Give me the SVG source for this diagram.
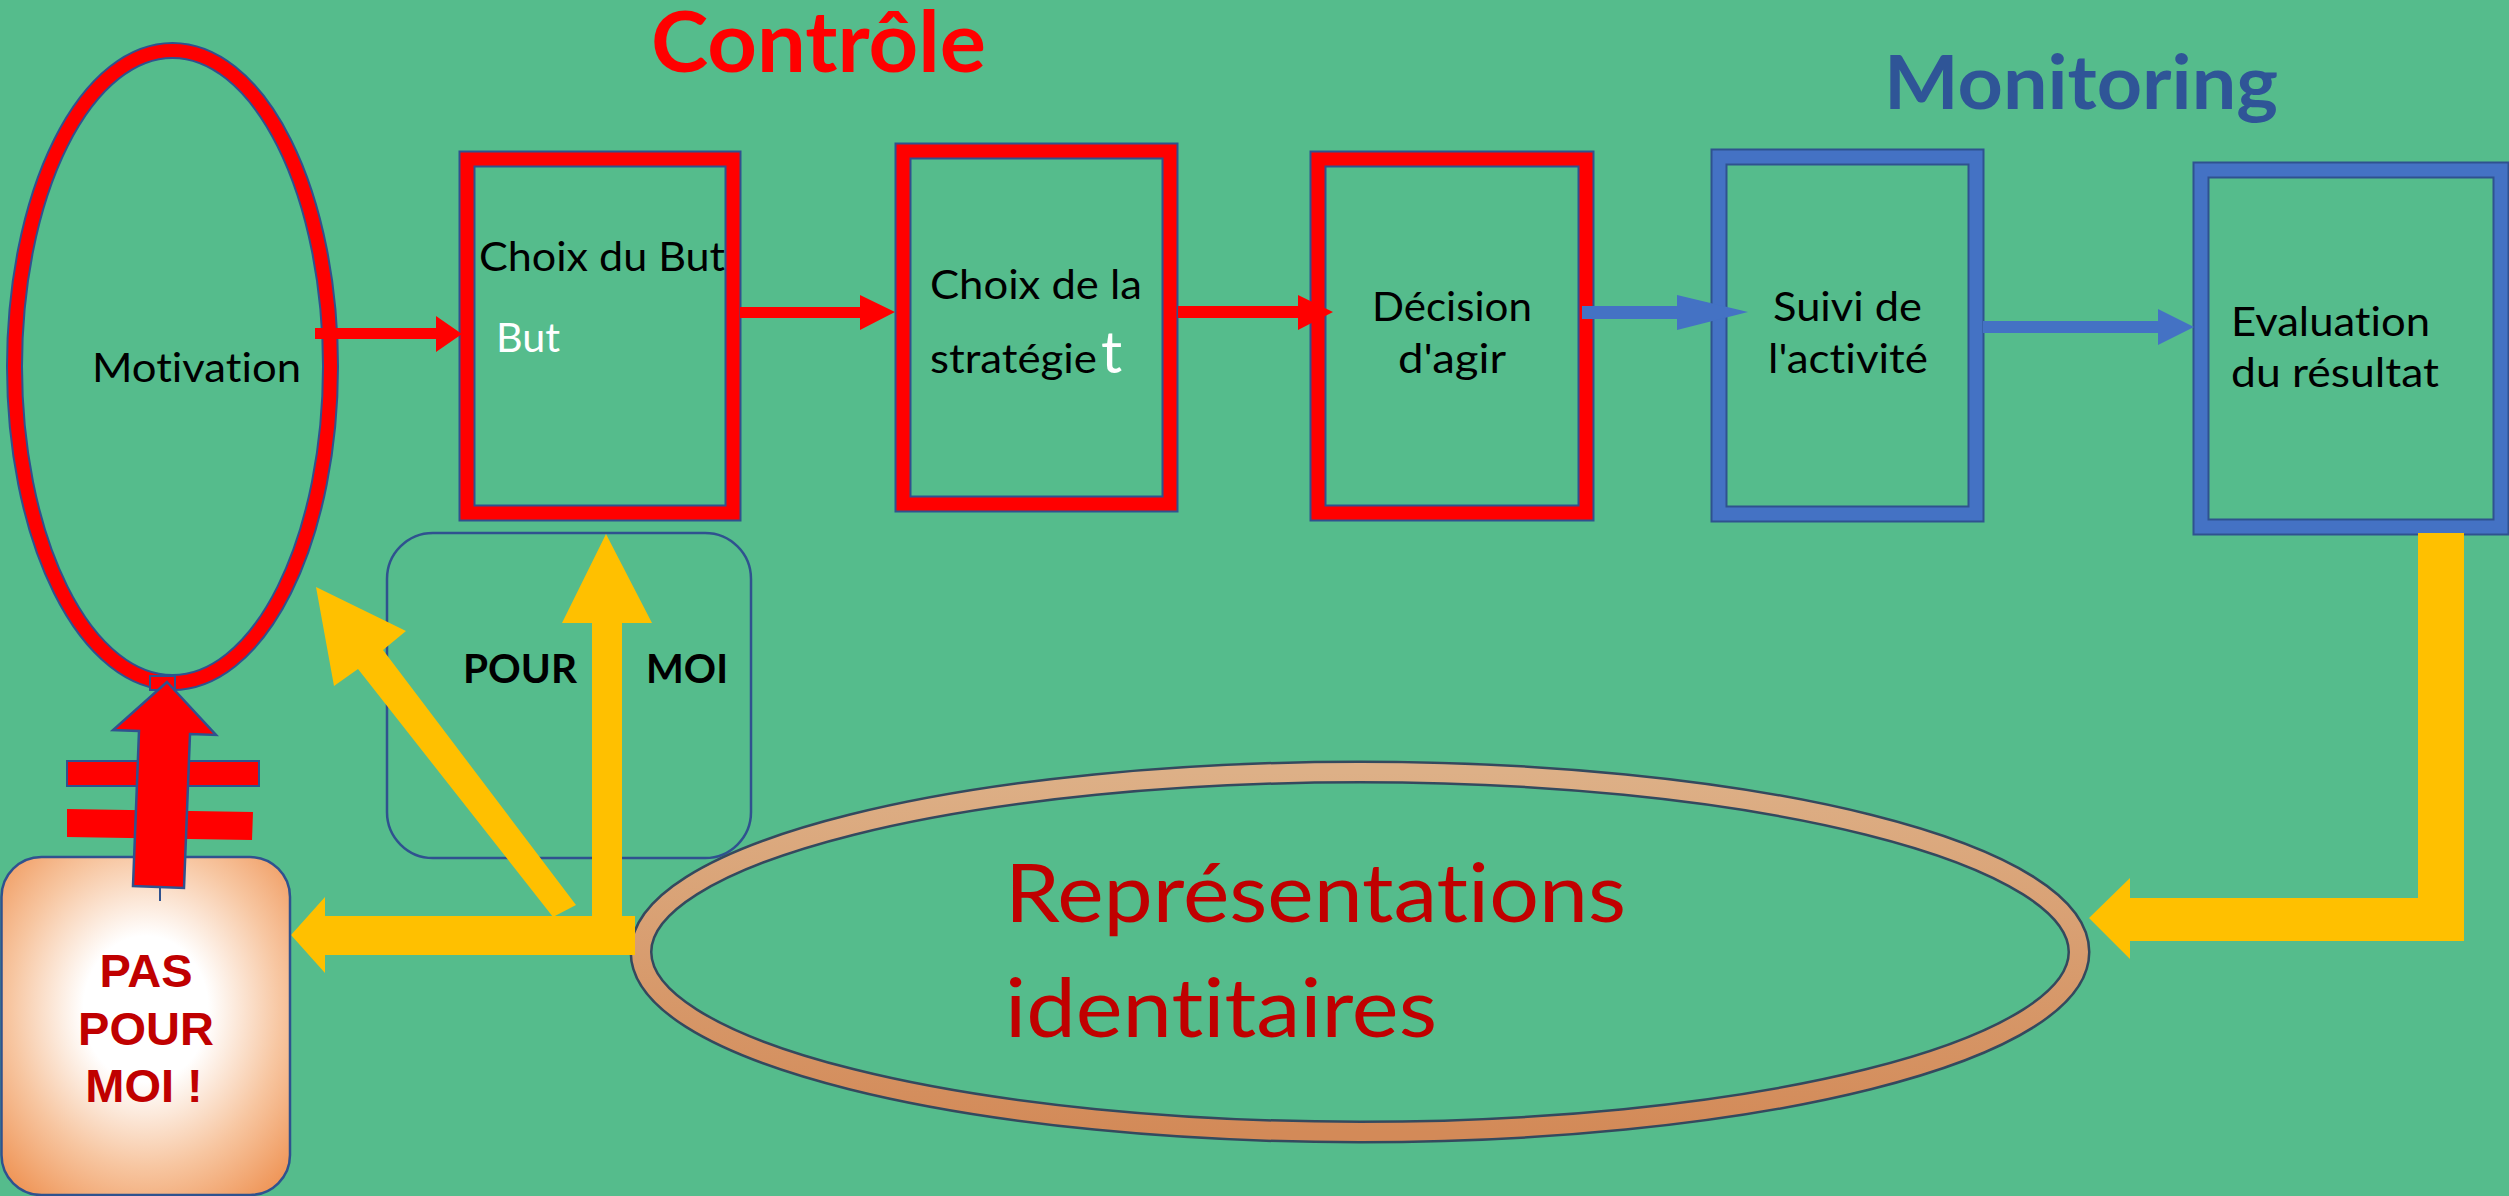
<svg xmlns="http://www.w3.org/2000/svg" width="2509" height="1196" viewBox="0 0 2509 1196">
<defs>
<style>
text{font-variant-ligatures:none;font-feature-settings:"liga" 0,"clig" 0;}
.cal{font-family:Lato,"Liberation Sans",sans-serif;}
.lbl{font-family:Lato,"Liberation Sans",sans-serif;font-size:41px;fill:#000;}
.redo{fill:none;stroke:#2F528F;stroke-width:17;}
.redi{fill:none;stroke:#FF0000;stroke-width:13;}
.bluo{fill:none;stroke:#2F528F;stroke-width:17;}
.blui{fill:none;stroke:#4472C4;stroke-width:13;}
.yel{fill:#FFC000;}
.rarr{fill:#FF0000;}
.barr{fill:#4472C4;}
</style>
<linearGradient id="ring" x1="0" y1="0" x2="0" y2="1">
<stop offset="0" stop-color="#DDB087"/>
<stop offset="1" stop-color="#D38A58"/>
</linearGradient>
<radialGradient id="pas" cx="0.5" cy="0.45" r="0.72">
<stop offset="0" stop-color="#FFFFFF"/>
<stop offset="0.3" stop-color="#FFFFFF"/>
<stop offset="0.65" stop-color="#F7C6A1"/>
<stop offset="1" stop-color="#EE8F4E"/>
</radialGradient>
</defs>
<rect x="0" y="0" width="2509" height="1196" fill="#55BC8C"/>

<g id="title-controle"><text class="cal" x="651" y="72" font-size="84" font-weight="bold" fill="#FF0000" textLength="335" lengthAdjust="spacingAndGlyphs">Contrôle</text></g>
<g id="title-monitoring"><text class="cal" x="1884" y="109" font-size="75" font-weight="bold" fill="#2F5597" textLength="394" lengthAdjust="spacingAndGlyphs">Monitoring</text></g>

<g id="motivation">
<ellipse cx="172.5" cy="366.5" rx="158" ry="316" class="redo"/>
<ellipse cx="172.5" cy="366.5" rx="158" ry="316" class="redi"/>
<text class="lbl" x="92" y="382" textLength="209" lengthAdjust="spacingAndGlyphs">Motivation</text>
</g>

<g id="choix-but">
<rect x="467" y="159" width="266" height="354" class="redo"/>
<rect x="467" y="159" width="266" height="354" class="redi"/>
<text class="lbl" x="479" y="271" textLength="246" lengthAdjust="spacingAndGlyphs">Choix du But</text>
<text class="lbl" x="496" y="352" style="fill:#FFFFFF" textLength="64" lengthAdjust="spacingAndGlyphs">But</text>
</g>

<g id="choix-strategie">
<rect x="903" y="151" width="267" height="353" class="redo"/>
<rect x="903" y="151" width="267" height="353" class="redi"/>
<text class="lbl" x="930" y="299" textLength="212" lengthAdjust="spacingAndGlyphs">Choix de la</text>
<text class="lbl" x="930" y="373" textLength="167" lengthAdjust="spacingAndGlyphs">stratégie</text>
<text class="cal" x="1101" y="373" font-size="59" fill="#FFFFFF">t</text>
</g>

<g id="decision">
<rect x="1318" y="159" width="268" height="354" class="redo"/>
<rect x="1318" y="159" width="268" height="354" class="redi"/>
<text class="lbl" x="1372" y="321" textLength="160" lengthAdjust="spacingAndGlyphs">Décision</text>
<text class="lbl" x="1398" y="373" textLength="108" lengthAdjust="spacingAndGlyphs">d'agir</text>
</g>

<g id="suivi">
<rect x="1719" y="157" width="257" height="357" class="bluo"/>
<rect x="1719" y="157" width="257" height="357" class="blui"/>
<text class="lbl" x="1773" y="321" textLength="149" lengthAdjust="spacingAndGlyphs">Suivi de</text>
<text class="lbl" x="1768" y="373" textLength="160" lengthAdjust="spacingAndGlyphs">l'activité</text>
</g>

<g id="evaluation">
<rect x="2201" y="170" width="300" height="357" class="bluo"/>
<rect x="2201" y="170" width="300" height="357" class="blui"/>
<text class="lbl" x="2231" y="336" textLength="199" lengthAdjust="spacingAndGlyphs">Evaluation</text>
<text class="lbl" x="2231" y="387" textLength="208" lengthAdjust="spacingAndGlyphs">du résultat</text>
</g>

<g id="pour-moi">
<rect x="387" y="533" width="364" height="325" rx="46" ry="46" fill="none" stroke="#2F528F" stroke-width="2.5"/>
</g>

<g id="representations">
<ellipse cx="1360" cy="952" rx="719" ry="180" fill="none" stroke="#34495E" stroke-width="23"/>
<ellipse cx="1360" cy="952" rx="719" ry="180" fill="none" stroke="url(#ring)" stroke-width="18"/>
<text class="cal" x="1005" y="922" font-size="82" fill="#C00000" textLength="621" lengthAdjust="spacingAndGlyphs">Représentations</text>
<text class="cal" x="1005" y="1037" font-size="82" fill="#C00000" textLength="432" lengthAdjust="spacingAndGlyphs">identitaires</text>
</g>

<g id="connectors">
<polygon class="rarr" points="315,328 436,328 436,316 462,334 436,352 436,339 315,339"/>
<polygon class="rarr" points="740,307 860,307 860,295 895,312 860,330 860,318 740,318"/>
<polygon class="rarr" points="1178,306 1298,306 1298,295 1333,312 1298,330 1298,318 1178,318"/>
<polygon class="barr" points="1582,306 1677,306 1677,295 1748,312 1677,330 1677,319 1582,319"/>
<polygon class="barr" points="1983,321 2158,321 2158,309 2194,327 2158,345 2158,333 1983,333"/>
<polygon class="yel" points="2418,533 2464,533 2464,941 2130,941 2130,959 2089,918 2130,878 2130,898 2418,898"/>
<polygon class="yel" points="592,917 592,623 562,623 606,534 652,623 622,623 622,917"/>
<polygon class="yel" points="316,587 406,631 383,650 576,905 553,917 358,669 334,686"/>
<polygon class="yel" points="635,916 635,955 325,955 325,973 291,935 325,897 325,916"/>
</g>

<g id="pas-pour-moi">
<rect x="1.5" y="857" width="288.5" height="338" rx="40" ry="40" fill="url(#pas)" stroke="#2F528F" stroke-width="2.5"/>
<g font-family="'Liberation Sans',Arial,sans-serif" font-weight="bold" font-size="47" fill="#C00000" text-anchor="middle">
<text x="146" y="987">PAS</text>
<text x="146" y="1045">POUR</text>
<text x="144" y="1102">MOI !</text>
</g>
</g>

<g id="not-equal">
<rect x="67" y="761" width="192" height="25" fill="#FF0000" stroke="#2F528F" stroke-width="2"/>
<polygon points="67,809 253,812 252,840 67,837" fill="#FF0000"/>
<rect x="150" y="676" width="25" height="14" fill="#FF0000" stroke="#2F528F" stroke-width="2"/>
<line x1="160" y1="888" x2="160" y2="901" stroke="#2F528F" stroke-width="2"/>
<polygon points="167,682 216,735 190,734 184,888 133,886 139,731 113,730" fill="#FF0000" stroke="#2F528F" stroke-width="2.5" stroke-linejoin="miter"/>
</g>

<g id="pour-moi-labels">
<text class="cal" x="463" y="683" font-size="41" font-weight="bold" fill="#000" textLength="114" lengthAdjust="spacingAndGlyphs">POUR</text>
<text class="cal" x="646" y="683" font-size="41" font-weight="bold" fill="#000" textLength="82" lengthAdjust="spacingAndGlyphs">MOI</text>
</g>
</svg>
